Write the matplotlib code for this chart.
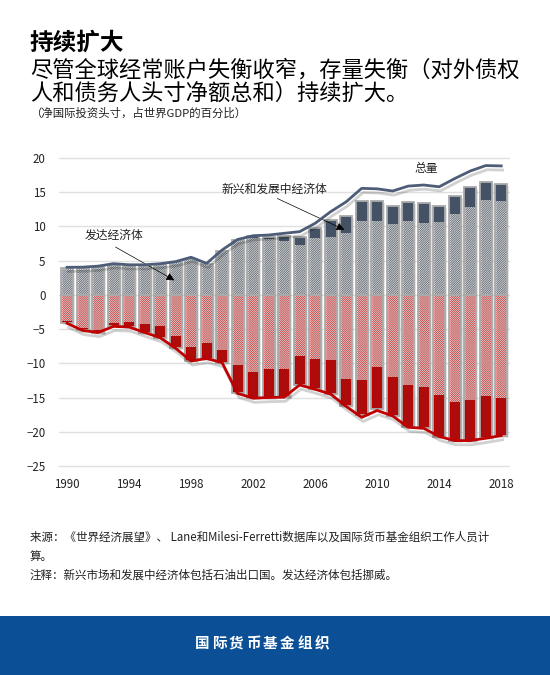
import matplotlib
matplotlib.use('Agg')
import matplotlib.pyplot as plt
import matplotlib.patheffects as pe
from matplotlib.patches import Rectangle
import numpy as np

plt.rcParams['font.family'] = ['Noto Sans CJK SC', 'DejaVu Sans']
plt.rcParams['hatch.linewidth'] = 0.5

years = list(range(1990, 2019))

# advanced economies (hatched) and emerging/developing economies (solid), % of world GDP
adv_pos = [3.9, 3.9, 4.0, 4.27, 4.12, 4.1, 4.37, 4.7, 5.15, 4.37,
           6.3, 7.88, 8.36, 8.12, 7.88, 7.3, 8.27, 8.5, 9.1, 10.85,
           10.8, 10.36, 10.85, 10.55, 10.65, 11.82, 12.9, 13.9, 13.76]
em_pos = [0.1, 0.1, 0.1, 0.1, 0.1, 0.1, 0.1, 0.1, 0.1, 0.1,
          0.15, 0.15, 0.2, 0.38, 0.77, 1.1, 1.46, 2.44, 2.43, 2.87,
          2.92, 2.64, 2.72, 2.83, 2.35, 2.58, 2.82, 2.6, 2.44]
adv_neg = [-3.8, -4.8, -5.1, -4.15, -4.0, -4.25, -4.55, -5.96, -7.66, -7.08,
           -8.05, -10.24, -11.2, -10.83, -10.83, -8.93, -9.37, -9.5, -12.3, -12.43,
           -10.5, -12.04, -13.17, -13.5, -14.63, -15.7, -15.36, -14.77, -15.06]
em_neg = [-0.35, -0.4, -0.4, -0.45, -0.7, -1.25, -1.7, -1.84, -2.0, -2.22,
          -1.85, -4.16, -3.9, -4.17, -4.12, -4.24, -4.43, -5.0, -4.0, -5.1,
          -6.17, -5.66, -6.18, -6.0, -6.07, -5.6, -5.94, -6.18, -5.51]
total_pos = [4.03, 4.05, 4.2, 4.56, 4.4, 4.4, 4.55, 4.86, 5.5, 4.6,
             6.56, 8.1, 8.65, 8.75, 9.0, 9.24, 10.46, 12.16, 13.6, 15.57,
             15.5, 15.18, 15.9, 16.06, 15.8, 17.0, 18.1, 18.9, 18.85]
total_neg = [-4.15, -5.2, -5.5, -4.6, -4.7, -5.5, -6.25, -7.8, -9.66, -9.3,
             -9.9, -14.4, -15.1, -15.0, -14.95, -13.17, -13.8, -14.5, -16.3, -17.9,
             -16.9, -17.7, -19.35, -19.5, -20.7, -21.3, -21.3, -20.95, -20.57]

navy = '#44546a'
red = '#c00000'

fig = plt.figure(figsize=(5.5, 6.75), dpi=100)
ax = fig.add_axes([0.1078, 0.3067, 0.819, 0.4622])

x = np.array(years)
w = 0.78
shadow = [pe.SimplePatchShadow(offset=(1.5, -1.5), alpha=0.15), pe.Normal()]

# positive side
ax.bar(x, adv_pos, w, color='#f0f0f0', edgecolor='#55606f', hatch='/' * 15, lw=0, zorder=2)
ax.bar(x, em_pos, w, bottom=adv_pos, color=navy, lw=0, zorder=2)
ax.bar(x, np.array(adv_pos) + np.array(em_pos), w, color='none', edgecolor='#aaaaaa',
       lw=1.3, zorder=3, path_effects=shadow)

# negative side
ax.bar(x, adv_neg, w, color='white', edgecolor='#d42a2a', hatch='\\' * 17, lw=0, zorder=2)
ax.bar(x, em_neg, w, bottom=adv_neg, color=red, lw=0, zorder=2)
ax.bar(x, np.array(adv_neg) + np.array(em_neg), w, color='none', edgecolor='#aaaaaa',
       lw=1.3, zorder=3, path_effects=shadow)

lshadow = [pe.SimpleLineShadow(offset=(1, -3), alpha=0.18, shadow_color='black'), pe.Normal()]
ax.plot(x, total_pos, color='#4d5d78', lw=2, zorder=4, path_effects=lshadow)
ax.plot(x, total_neg, color=red, lw=2, zorder=4, path_effects=lshadow)

ax.set_xlim(1989.5, 2018.55)
ax.set_ylim(-25.3, 20.3)
ax.set_yticks(range(-25, 21, 5))
ax.set_xticks(range(1990, 2019, 4))
ax.grid(axis='y', color='#e0e0e0', lw=1, zorder=0)
ax.set_axisbelow(True)
for s in ax.spines.values():
    s.set_visible(False)
ax.tick_params(length=0, labelsize=8.3, colors='#222222')
ax.tick_params(axis='y', pad=10)
ax.tick_params(axis='x', pad=7)

# annotations
ax.text(1993.0, 8.75, '发达经济体', fontsize=8.5, ha='center', va='center', color='#222222')
ax.annotate('', xy=(1997.08, 1.93), xytext=(1992.97, 7.19),
            arrowprops=dict(arrowstyle='-|>', color='black', lw=0.5, mutation_scale=12))
ax.text(2003.35, 15.47, '新兴和发展中经济体', fontsize=8.5, ha='center', va='center', color='#222222')
ax.annotate('', xy=(2008.05, 9.34), xytext=(2003.4, 14.26),
            arrowprops=dict(arrowstyle='-|>', color='black', lw=0.5, mutation_scale=12))
ax.text(2013.16, 18.47, '总量', fontsize=8.5, ha='center', va='center', color='#222222')

# titles
fig.text(30 / 550, 1 - 43 / 675, '持续扩大', fontsize=17, fontweight='bold', va='center', color='black')
fig.text(30 / 550, 1 - 70 / 675, '尽管全球经常账户失衡收窄，存量失衡（对外债权', fontsize=16, va='center')
fig.text(30 / 550, 1 - 93 / 675, '人和债务人头寸净额总和）持续扩大。', fontsize=16, va='center')
fig.text(30 / 550, 1 - 113 / 675, '（净国际投资头寸，占世界GDP的百分比）', fontsize=8.2, va='center', color='#222222')

# footer
fig.text(30 / 550, 1 - 537 / 675, '来源：《世界经济展望》、 Lane和Milesi-Ferretti数据库以及国际货币基金组织工作人员计',
         fontsize=8.3, va='center', color='#222222')
fig.text(30 / 550, 1 - 556 / 675, '算。', fontsize=8.3, va='center', color='#222222')
fig.text(30 / 550, 1 - 575 / 675, '注释：新兴市场和发展中经济体包括石油出口国。发达经济体包括挪威。',
         fontsize=8.3, va='center', color='#222222')

fig.patches.append(Rectangle((0, 0), 1, 59 / 675, transform=fig.transFigure,
                             facecolor='#0b4f96', edgecolor='none', zorder=0))
banner = '国际货币基金组织'
for i, ch in enumerate(banner):
    fig.text((202 + i * 17.1) / 550, 1 - 643 / 675, ch, fontsize=10.5, fontweight='bold',
             color='white', ha='center', va='center')

fig.savefig('out.png', dpi=100)
